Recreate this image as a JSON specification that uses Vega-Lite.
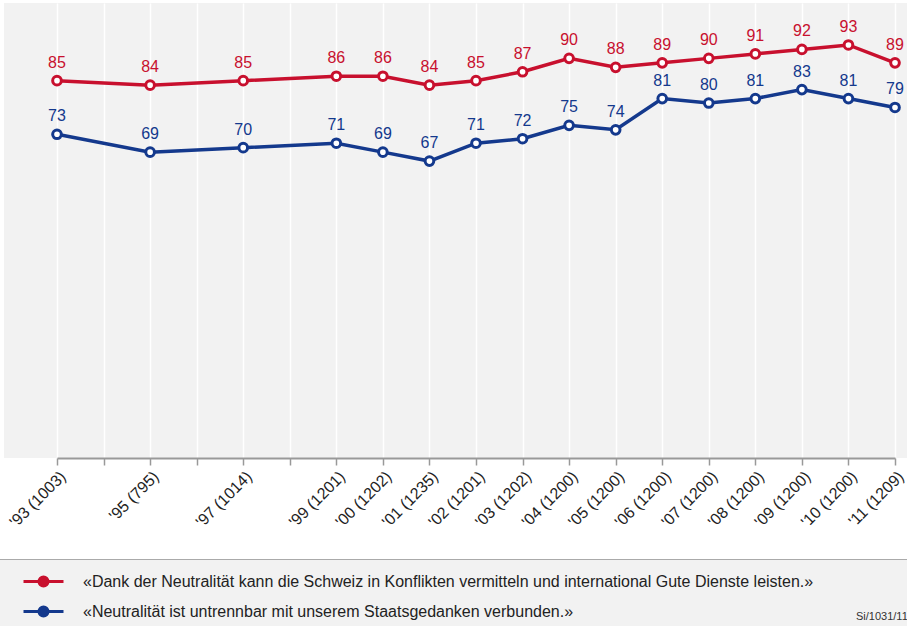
{
  "$schema": "https://vega.github.io/schema/vega-lite/v6.json",
  "width": 903,
  "height": 455,
  "autosize": "none",
  "padding": {"left": 4, "top": 3, "right": 0, "bottom": 168},
  "background": "white",
  "config": {
    "font": "Liberation Sans",
    "view": {"fill": "#f2f2f2", "stroke": null}
  },
  "datasets": {
    "survey": [
      {"year": 1993, "label": "'93 (1003)", "statement": "«Dank der Neutralität kann die Schweiz in Konflikten vermitteln und international Gute Dienste leisten.»", "value": 85},
      {"year": 1995, "label": "'95 (795)", "statement": "«Dank der Neutralität kann die Schweiz in Konflikten vermitteln und international Gute Dienste leisten.»", "value": 84},
      {"year": 1997, "label": "'97 (1014)", "statement": "«Dank der Neutralität kann die Schweiz in Konflikten vermitteln und international Gute Dienste leisten.»", "value": 85},
      {"year": 1999, "label": "'99 (1201)", "statement": "«Dank der Neutralität kann die Schweiz in Konflikten vermitteln und international Gute Dienste leisten.»", "value": 86},
      {"year": 2000, "label": "'00 (1202)", "statement": "«Dank der Neutralität kann die Schweiz in Konflikten vermitteln und international Gute Dienste leisten.»", "value": 86},
      {"year": 2001, "label": "'01 (1235)", "statement": "«Dank der Neutralität kann die Schweiz in Konflikten vermitteln und international Gute Dienste leisten.»", "value": 84},
      {"year": 2002, "label": "'02 (1201)", "statement": "«Dank der Neutralität kann die Schweiz in Konflikten vermitteln und international Gute Dienste leisten.»", "value": 85},
      {"year": 2003, "label": "'03 (1202)", "statement": "«Dank der Neutralität kann die Schweiz in Konflikten vermitteln und international Gute Dienste leisten.»", "value": 87},
      {"year": 2004, "label": "'04 (1200)", "statement": "«Dank der Neutralität kann die Schweiz in Konflikten vermitteln und international Gute Dienste leisten.»", "value": 90},
      {"year": 2005, "label": "'05 (1200)", "statement": "«Dank der Neutralität kann die Schweiz in Konflikten vermitteln und international Gute Dienste leisten.»", "value": 88},
      {"year": 2006, "label": "'06 (1200)", "statement": "«Dank der Neutralität kann die Schweiz in Konflikten vermitteln und international Gute Dienste leisten.»", "value": 89},
      {"year": 2007, "label": "'07 (1200)", "statement": "«Dank der Neutralität kann die Schweiz in Konflikten vermitteln und international Gute Dienste leisten.»", "value": 90},
      {"year": 2008, "label": "'08 (1200)", "statement": "«Dank der Neutralität kann die Schweiz in Konflikten vermitteln und international Gute Dienste leisten.»", "value": 91},
      {"year": 2009, "label": "'09 (1200)", "statement": "«Dank der Neutralität kann die Schweiz in Konflikten vermitteln und international Gute Dienste leisten.»", "value": 92},
      {"year": 2010, "label": "'10 (1200)", "statement": "«Dank der Neutralität kann die Schweiz in Konflikten vermitteln und international Gute Dienste leisten.»", "value": 93},
      {"year": 2011, "label": "'11 (1209)", "statement": "«Dank der Neutralität kann die Schweiz in Konflikten vermitteln und international Gute Dienste leisten.»", "value": 89},
      {"year": 1993, "label": "'93 (1003)", "statement": "«Neutralität ist untrennbar mit unserem Staatsgedanken verbunden.»", "value": 73},
      {"year": 1995, "label": "'95 (795)", "statement": "«Neutralität ist untrennbar mit unserem Staatsgedanken verbunden.»", "value": 69},
      {"year": 1997, "label": "'97 (1014)", "statement": "«Neutralität ist untrennbar mit unserem Staatsgedanken verbunden.»", "value": 70},
      {"year": 1999, "label": "'99 (1201)", "statement": "«Neutralität ist untrennbar mit unserem Staatsgedanken verbunden.»", "value": 71},
      {"year": 2000, "label": "'00 (1202)", "statement": "«Neutralität ist untrennbar mit unserem Staatsgedanken verbunden.»", "value": 69},
      {"year": 2001, "label": "'01 (1235)", "statement": "«Neutralität ist untrennbar mit unserem Staatsgedanken verbunden.»", "value": 67},
      {"year": 2002, "label": "'02 (1201)", "statement": "«Neutralität ist untrennbar mit unserem Staatsgedanken verbunden.»", "value": 71},
      {"year": 2003, "label": "'03 (1202)", "statement": "«Neutralität ist untrennbar mit unserem Staatsgedanken verbunden.»", "value": 72},
      {"year": 2004, "label": "'04 (1200)", "statement": "«Neutralität ist untrennbar mit unserem Staatsgedanken verbunden.»", "value": 75},
      {"year": 2005, "label": "'05 (1200)", "statement": "«Neutralität ist untrennbar mit unserem Staatsgedanken verbunden.»", "value": 74},
      {"year": 2006, "label": "'06 (1200)", "statement": "«Neutralität ist untrennbar mit unserem Staatsgedanken verbunden.»", "value": 81},
      {"year": 2007, "label": "'07 (1200)", "statement": "«Neutralität ist untrennbar mit unserem Staatsgedanken verbunden.»", "value": 80},
      {"year": 2008, "label": "'08 (1200)", "statement": "«Neutralität ist untrennbar mit unserem Staatsgedanken verbunden.»", "value": 81},
      {"year": 2009, "label": "'09 (1200)", "statement": "«Neutralität ist untrennbar mit unserem Staatsgedanken verbunden.»", "value": 83},
      {"year": 2010, "label": "'10 (1200)", "statement": "«Neutralität ist untrennbar mit unserem Staatsgedanken verbunden.»", "value": 81},
      {"year": 2011, "label": "'11 (1209)", "statement": "«Neutralität ist untrennbar mit unserem Staatsgedanken verbunden.»", "value": 79}
    ]
  },
  "data": {"name": "survey"},
  "encoding": {
    "x": {
      "field": "label",
      "type": "ordinal",
      "scale": {
        "type": "point",
        "domain": ["'93 (1003)", "'94", "'95 (795)", "'96", "'97 (1014)", "'98", "'99 (1201)", "'00 (1202)", "'01 (1235)", "'02 (1201)", "'03 (1202)", "'04 (1200)", "'05 (1200)", "'06 (1200)", "'07 (1200)", "'08 (1200)", "'09 (1200)", "'10 (1200)", "'11 (1209)"],
        "range": [53, 891],
        "padding": 0
      },
      "axis": {
        "title": null,
        "labelExpr": "indexof(datum.label, '(') > 0 ? datum.label : ''",
        "labelAngle": -45,
        "labelFontSize": 16,
        "labelColor": "#222",
        "labelPadding": 3,
        "labelOverlap": false,
        "domainColor": "#999",
        "domainWidth": 2,
        "tickColor": "#999",
        "tickSize": 7,
        "tickWidth": 1.5,
        "grid": true,
        "gridColor": "#ffffff",
        "gridWidth": 1.5
      }
    },
    "y": {
      "field": "value",
      "type": "quantitative",
      "scale": {"domain": [0.5, 102.4], "nice": false, "zero": false},
      "axis": null
    }
  },
  "layer": [
    {
      "data": {"values": [{}]},
      "mark": {"type": "rule", "color": "#aaaaaa", "strokeWidth": 1.5},
      "encoding": {"x": null, "y": {"datum": 102.4}}
    },
    {
      "encoding": {
        "color": {
          "field": "statement",
          "type": "nominal",
          "scale": {
            "domain": ["«Dank der Neutralität kann die Schweiz in Konflikten vermitteln und international Gute Dienste leisten.»", "«Neutralität ist untrennbar mit unserem Staatsgedanken verbunden.»"],
            "range": ["#c8102e", "#14398d"]
          },
          "legend": {
            "orient": "none",
            "legendX": -5,
            "legendY": 556,
            "direction": "vertical",
            "title": "Si/1031/11",
            "titleOrient": "right",
            "titleAnchor": "end",
            "titleBaseline": "bottom",
            "titleFontSize": 11,
            "titleFontWeight": "normal",
            "titleColor": "#333",
            "titlePadding": 43,
            "fillColor": "#f2f2f2",
            "strokeColor": "#aaaaaa",
            "padding": 11,
            "symbolType": "M-2,0H-0.45M0.45,0H2M0.45,0A0.45,0.45,0,1,1,-0.45,0A0.45,0.45,0,1,1,0.45,0",
            "symbolSize": 400,
            "symbolStrokeWidth": 3,
            "symbolFillColor": "white",
            "symbolOffset": 22,
            "labelFontSize": 16,
            "labelColor": "#222",
            "labelOffset": 28,
            "labelLimit": 1000,
            "rowPadding": 8
          }
        }
      },
      "layer": [
        {
          "mark": {"type": "line", "strokeWidth": 3.5},
          "encoding": {"order": {"field": "year", "type": "quantitative"}}
        },
        {
          "mark": {"type": "point", "shape": "circle", "filled": false, "fill": "white", "fillOpacity": 1, "opacity": 1, "size": 75, "strokeWidth": 3}
        }
      ]
    },
    {
      "mark": {"type": "text", "dy": -18, "fontSize": 16},
      "encoding": {
        "text": {"field": "value", "type": "quantitative"},
        "fill": {
          "field": "statement",
          "type": "nominal",
          "scale": {
            "domain": ["«Dank der Neutralität kann die Schweiz in Konflikten vermitteln und international Gute Dienste leisten.»", "«Neutralität ist untrennbar mit unserem Staatsgedanken verbunden.»"],
            "range": ["#c8102e", "#14398d"]
          },
          "legend": null
        }
      }
    }
  ]
}
